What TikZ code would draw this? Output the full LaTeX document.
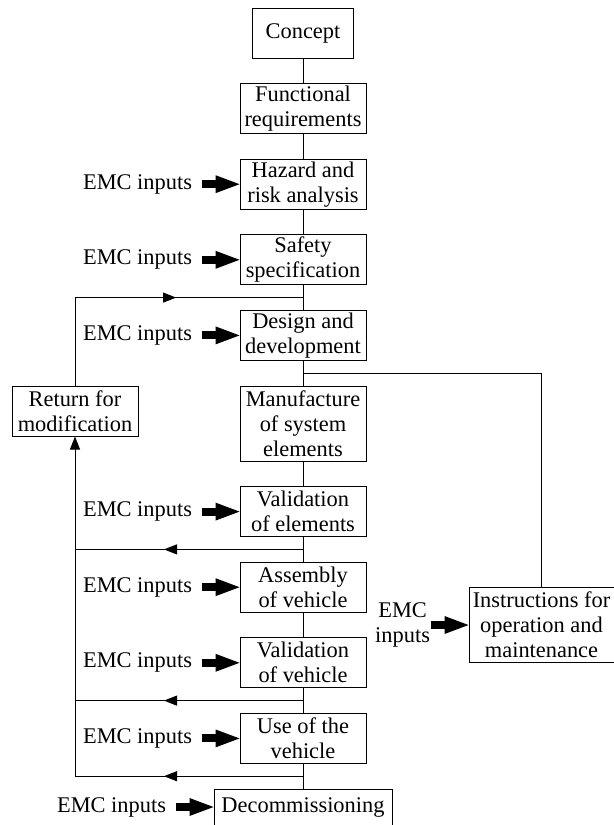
\documentclass[tikz,border=0pt]{standalone}
\usepackage{fontspec}
\setmainfont{Liberation Serif}
\usetikzlibrary{arrows.meta,positioning,calc,decorations.markings}

\begin{document}
\begin{tikzpicture}[node distance=12.3pt, line width=0.5pt,
    every node/.style={font=\fontsize{11.2}{12.5}\selectfont},
    stage/.style={draw, minimum width=63pt, minimum height=25pt, inner xsep=1.5pt, inner ysep=0pt, align=center},
    emc/.style={inner xsep=4.5pt, inner ysep=0pt, align=center},
    emcarrow/.style={line width=4pt, -{Triangle[length=12pt,width=9pt,line width=0pt]}},
    backarrow/.style={postaction={decorate}, decoration={markings, mark=at position #1 with {\arrow{Triangle[length=6.5pt,width=5pt]}}}}]
        \useasboundingbox (0,0) rectangle (307pt,-412.5pt);
        \node[stage, minimum width=50.5pt] (concept) at (151.5pt,-16.5pt) {Concept};
        \node[stage, below=of concept] (func) {Functional\\requirements};
        \node[stage, below=of func] (hazard) {Hazard and\\risk analysis};
        \node[stage, below=of hazard] (safety) {Safety\\specification};
        \node[stage, below=of safety] (design) {Design and\\development};
        \node[stage, below=of design, minimum height=37.5pt] (manuf) {Manufacture\\of system\\elements};
        \node[stage, below=of manuf] (valel) {Validation\\of elements};
        \node[stage, below=of valel] (assy) {Assembly\\of vehicle};
        \node[stage, below=of assy] (valveh) {Validation\\of vehicle};
        \node[stage, below=of valveh] (use) {Use of the\\vehicle};
        \node[stage, below=of use, minimum width=89pt, minimum height=18pt] (decom) {Decommissioning};
        \node[stage, left=50.5pt of manuf.north west, anchor=north east] (ret) {Return for\\modification};
        \node[stage, minimum width=72.5pt, minimum height=37.5pt, inner xsep=0.5pt, anchor=west] (instr) at ($(assy.south east)!0.5!(valveh.north east)+(51pt,0)$) {Instructions for\\operation and\\maintenance};
        \foreach \a/\b in {concept/func,func/hazard,hazard/safety,safety/design,design/manuf,manuf/valel,valel/assy,assy/valveh,valveh/use,use/decom}{\draw (\a) -- (\b);}
        % EMC inputs
        \foreach \b in {hazard,safety,design,valel,assy,valveh,use,decom}{
          \node[emc, left=19pt of \b] (emc\b) {EMC inputs};
          \draw[emcarrow] (emc\b) -- (\b);
        }
        \node[emc, inner xsep=0pt, left=19pt of instr] (emcinstr) {EMC\\inputs};
        \draw[emcarrow] (emcinstr) -- (instr);
        % feedback loops
        \coordinate (fbtop) at ($(safety.south)!0.5!(design.north)$);
        \coordinate (fbel) at ($(valel.south)!0.5!(assy.north)$);
        \coordinate (fbveh) at ($(valveh.south)!0.5!(use.north)$);
        \coordinate (fbuse) at ($(use.south)!0.5!(decom.north)$);
        \coordinate (branch) at ($(design.south)!0.5!(manuf.north)$);
        \draw[backarrow=94.5pt] (ret.north) |- (fbtop);
        \foreach \c in {fbel,fbveh,fbuse}{\draw[backarrow=69.5pt] (\c) -- (\c -| ret);}
        \draw[-{Triangle[length=6.5pt,width=5pt]}] (fbuse -| ret) -- (ret.south);
        \draw (branch) -| (instr.north);
      \end{tikzpicture}
\end{document}
